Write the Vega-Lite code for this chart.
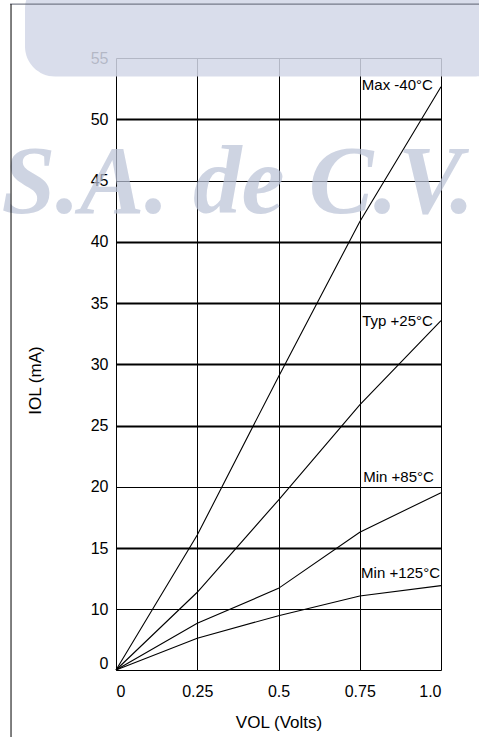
{
  "$schema": "https://vega.github.io/schema/vega-lite/v6.json",
  "width": 325,
  "height": 612,
  "autosize": {"type": "none"},
  "padding": {"left": 116, "top": 58, "right": 38, "bottom": 67},
  "background": "white",
  "config": {"view": {"stroke": null}, "font": "Liberation Sans"},
  "datasets": {
    "curves": [
      {"curve": "Max -40°C", "v": 0, "i": 0},
      {"curve": "Max -40°C", "v": 0.25, "i": 16.06},
      {"curve": "Max -40°C", "v": 0.5, "i": 28.99},
      {"curve": "Max -40°C", "v": 0.75, "i": 41.64},
      {"curve": "Max -40°C", "v": 1.0, "i": 52.66},
      {"curve": "Typ +25°C", "v": 0, "i": 0},
      {"curve": "Typ +25°C", "v": 0.25, "i": 11.39},
      {"curve": "Typ +25°C", "v": 0.5, "i": 18.92},
      {"curve": "Typ +25°C", "v": 0.75, "i": 26.68},
      {"curve": "Typ +25°C", "v": 1.0, "i": 33.56},
      {"curve": "Min +85°C", "v": 0, "i": 0},
      {"curve": "Min +85°C", "v": 0.25, "i": 7.69},
      {"curve": "Min +85°C", "v": 0.5, "i": 11.71},
      {"curve": "Min +85°C", "v": 0.75, "i": 16.29},
      {"curve": "Min +85°C", "v": 1.0, "i": 19.52},
      {"curve": "Min +125°C", "v": 0, "i": 0},
      {"curve": "Min +125°C", "v": 0.25, "i": 5.22},
      {"curve": "Min +125°C", "v": 0.5, "i": 8.95},
      {"curve": "Min +125°C", "v": 0.75, "i": 11.09},
      {"curve": "Min +125°C", "v": 1.0, "i": 11.93}
    ],
    "labels": [
      {"text": "Max -40°C", "v": 0.975, "i": 52.8},
      {"text": "Typ +25°C", "v": 0.975, "i": 33.53},
      {"text": "Min +85°C", "v": 0.978, "i": 20.8},
      {"text": "Min +125°C", "v": 0.997, "i": 12.96}
    ],
    "band": [{"x1": -0.28, "x2": 1.2, "y1": 61.5, "y2": 53.5}],
    "frameTop": [{"x1": -0.326, "x2": 1.2, "y": 59.4}],
    "frameLeft": [{"x": -0.323, "y1": 59.4, "y2": -15}],
    "watermark": [{"text": "S.A. de C.V.", "v": 0.375, "i": 42.35}]
  },
  "layer": [
    {
      "data": {"name": "curves"},
      "mark": {"type": "line", "color": "black", "strokeWidth": 1.1, "clip": false},
      "encoding": {
        "x": {
          "field": "v",
          "type": "quantitative",
          "scale": {"domain": [0, 1], "nice": false, "zero": false},
          "axis": {
            "values": [0, 0.25, 0.5, 0.75, 1],
            "labelExpr": "datum.value === 1 ? '1.0' : '' + datum.value",
            "grid": true,
            "gridColor": "black",
            "gridOpacity": 1,
            "gridWidth": 1,
            "ticks": false,
            "domain": false,
            "labelPadding": 13,
            "labelFontSize": 16,
            "labelColor": "black",
            "labelFont": "Liberation Sans",
            "title": "VOL (Volts)",
            "titleFont": "Liberation Sans",
            "titleFontSize": 17,
            "titleFontWeight": "normal",
            "titleColor": "black",
            "titleY": 52,
            "titleBaseline": "middle"
          }
        },
        "y": {
          "field": "i",
          "type": "quantitative",
          "scale": {"domain": [0, 10, 55], "range": [612, 551.3, 0], "nice": false, "zero": false},
          "axis": {
            "values": [0, 10, 15, 20, 25, 30, 35, 40, 45, 50, 55],
            "grid": true,
            "gridColor": "black",
            "gridOpacity": 1,
            "gridWidth": {"condition": {"test": "indexof([50, 40, 35, 30, 25, 15], datum.value) >= 0", "value": 2}, "value": 1},
            "labelOffset": {"condition": {"test": "datum.value === 0", "value": -7}, "value": 0},
            "ticks": false,
            "domain": false,
            "labelPadding": 8,
            "labelFontSize": 16,
            "labelColor": "black",
            "labelFont": "Liberation Sans",
            "title": "IOL (mA)",
            "titleFont": "Liberation Sans",
            "titleFontSize": 17,
            "titleFontWeight": "normal",
            "titleColor": "black",
            "titleAngle": -90,
            "titleX": -81,
            "titleY": 322,
            "titleAlign": "center",
            "titleBaseline": "middle"
          }
        },
        "detail": {"field": "curve", "type": "nominal"}
      }
    },
    {
      "data": {"name": "labels"},
      "mark": {"type": "text", "align": "right", "baseline": "middle", "fontSize": 15, "font": "Liberation Sans", "color": "black", "clip": false},
      "encoding": {
        "x": {"field": "v", "type": "quantitative"},
        "y": {"field": "i", "type": "quantitative"},
        "text": {"field": "text"}
      }
    },
    {
      "data": {"name": "band"},
      "mark": {"type": "rect", "color": "#d2d7e7", "opacity": 0.85, "cornerRadius": 30, "clip": false},
      "encoding": {
        "x": {"field": "x1", "type": "quantitative"},
        "x2": {"field": "x2"},
        "y": {"field": "y1", "type": "quantitative"},
        "y2": {"field": "y2"}
      }
    },
    {
      "data": {"name": "watermark"},
      "mark": {"type": "text", "align": "center", "baseline": "alphabetic", "font": "Liberation Serif", "fontSize": 97, "fontStyle": "italic", "fontWeight": "bold", "color": "#bcc4d8", "opacity": 0.72, "clip": false},
      "encoding": {
        "x": {"field": "v", "type": "quantitative"},
        "y": {"field": "i", "type": "quantitative"},
        "text": {"field": "text"}
      }
    },
    {
      "data": {"name": "frameTop"},
      "mark": {"type": "rule", "color": "#5c6170", "strokeWidth": 1, "clip": false},
      "encoding": {
        "x": {"field": "x1", "type": "quantitative"},
        "x2": {"field": "x2"},
        "y": {"field": "y", "type": "quantitative"}
      }
    },
    {
      "data": {"name": "frameLeft"},
      "mark": {"type": "rule", "color": "black", "strokeWidth": 1, "clip": false},
      "encoding": {
        "x": {"field": "x", "type": "quantitative"},
        "y": {"field": "y1", "type": "quantitative"},
        "y2": {"field": "y2"}
      }
    }
  ]
}
